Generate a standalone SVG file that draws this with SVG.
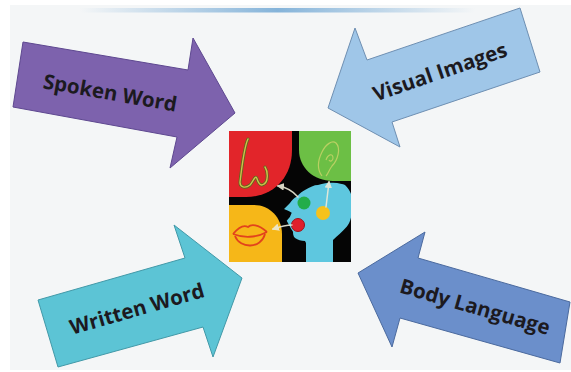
<svg xmlns="http://www.w3.org/2000/svg" width="571" height="372" viewBox="0 0 571 372">
  <defs>
    <linearGradient id="rule" x1="0" y1="0" x2="1" y2="0">
      <stop offset="0" stop-color="#7fb0d8" stop-opacity="0"/>
      <stop offset="0.5" stop-color="#7fb0d8" stop-opacity="0.95"/>
      <stop offset="1" stop-color="#7fb0d8" stop-opacity="0"/>
    </linearGradient>
    <clipPath id="pic">
      <rect x="229" y="131" width="122" height="131"/>
    </clipPath>
    <marker id="tip" viewBox="0 0 10 10" refX="8" refY="5" markerWidth="5" markerHeight="5" orient="auto-start-reverse">
      <path d="M0,0 L10,5 L0,10 Z" fill="#ecebd8"/>
    </marker>
    <style>
      .arrow { stroke-width: 1; stroke-linejoin: miter; }
      .label { font-family: "Open Sans", "Liberation Sans", sans-serif; font-weight: 700; font-size: 20.5px; fill: #1c1a1f; text-anchor: middle; }
      .flow { fill: none; stroke: #ecebd8; stroke-width: 1.5; stroke-linecap: round; opacity: 0.9; }
    </style>
  </defs>

  <!-- page and panel -->
  <rect width="571" height="372" fill="#ffffff"/>
  <rect x="10" y="5" width="561" height="365" fill="#f4f6f7"/>
  <rect x="80" y="8" width="395" height="4.5" fill="url(#rule)"/>

  <!-- Spoken Word -->
  <g id="spoken-word">
    <polygon class="arrow" points="23,42 188,70 193,38 235,113 170,168 177,137 13,107" fill="#7d62ad" stroke="#5e4890"/>
    <text class="label" transform="translate(110,93) rotate(10)" y="7">Spoken Word</text>
  </g>

  <!-- Visual Images -->
  <g id="visual-images">
    <polygon class="arrow" points="520,8 367,60 355,28 328,108 400,147 392,122 540,72" fill="#9fc6e8" stroke="#6e8fb2"/>
    <text class="label" transform="translate(440,72) rotate(-19)" y="7">Visual Images</text>
  </g>

  <!-- Written Word -->
  <g id="written-word">
    <polygon class="arrow" points="38,300 185,258 174,225 242,278 213,357 203,327 58,367" fill="#5cc4d5" stroke="#4299a8"/>
    <text class="label" transform="translate(137,309) rotate(-16)" y="7">Written Word</text>
  </g>

  <!-- Body Language -->
  <g id="body-language">
    <polygon class="arrow" points="570,302 418,258 425,232 358,273 392,347 400,318 560,363" fill="#6b8fcb" stroke="#4b6a9e"/>
    <text class="label" transform="translate(475,307) rotate(16)" y="7">Body Language</text>
  </g>

  <!-- central picture: head with the senses -->
  <g id="senses" clip-path="url(#pic)">
    <rect x="229" y="131" width="122" height="131" fill="#050505"/>
    <path d="M229,131 H292 V150 C292,178 273,197 246,197 H229 Z" fill="#e2252a"/>
    <path d="M299,131 H351 V181 H333 C313,181 299,167 299,150 Z" fill="#6cbf45"/>
    <path d="M229,205 H254 C270,205 282,218 282,234 V262 H229 Z" fill="#f6b718"/>

    <!-- nose -->
    <path d="M248,139 C245,145 242,165 240,182 C239.7,187 245,189 250,185 C253,182 255,175 256.7,178 C258,182 260,187 264,184 C268,182 268.3,172 265,167" fill="none" stroke="#5c6a1e" stroke-width="3" stroke-linecap="round"/>
    <path d="M248,139 C245,145 242,165 240,182 C239.7,187 245,189 250,185 C253,182 255,175 256.7,178 C258,182 260,187 264,184 C268,182 268.3,172 265,167" fill="none" stroke="#cfc04c" stroke-width="1.4" stroke-linecap="round"/>

    <!-- ear -->
    <path d="M322,176 C316,168 318,160 322,152 C326,144 332,140 336,143 C341,148 338,160 332,166 C329,170 328,174 326,176" fill="none" stroke="#b9d062" stroke-width="1.2"/>
    <path d="M326,160 C328,154 333,153 333,158 C333,161 330,162 329,160" fill="none" stroke="#b9d062" stroke-width="1.1"/>

    <!-- lips -->
    <g fill="none" stroke="#e2431c" stroke-width="1.8" stroke-linejoin="round">
      <path d="M233,234 C238,228 243,224 248,227 C251,224 258,224 267,232"/>
      <path d="M233,234 C243,238 256,238 267,232"/>
      <path d="M235,236 C240,249 261,249 265,234"/>
    </g>

    <!-- head -->
    <path d="M306,262 V243 L305,241 C301,241 298,240 295,238 C293,236 293,233 293,231.7 C291,229 290,227 290,226.7 L286.7,220.7 C288,219 290,217 290,216.7 L291.7,212.7 C289,211 286,210 284,209 L290,203 C292,200 294,198 296.7,196.7 C300,193 303,191 305,190 C310,187 314,185 318,185 C324,183 329,182.5 333,182.7 C339,183 343,184 345,185 C349,189 351,193 351.7,196.7 V213 C351,220 349,224 346.7,226.7 C342,232 337,236 333,240 V262 Z" fill="#5ec7df"/>
    <circle cx="304" cy="203" r="6.5" fill="#23ad4a"/>
    <circle cx="323" cy="213" r="7" fill="#f6c21b"/>
    <circle cx="298" cy="225" r="6.5" fill="#df1f2b" stroke="#9e1219" stroke-width="1"/>

    <!-- flows from the head -->
    <path class="flow" d="M298,197 C292,190 285,187 278,186" marker-end="url(#tip)"/>
    <path class="flow" d="M326,207 L329,182" marker-end="url(#tip)"/>
    <path class="flow" d="M292,225 C285,225 279,227 273,229" marker-end="url(#tip)"/>
  </g>
</svg>
